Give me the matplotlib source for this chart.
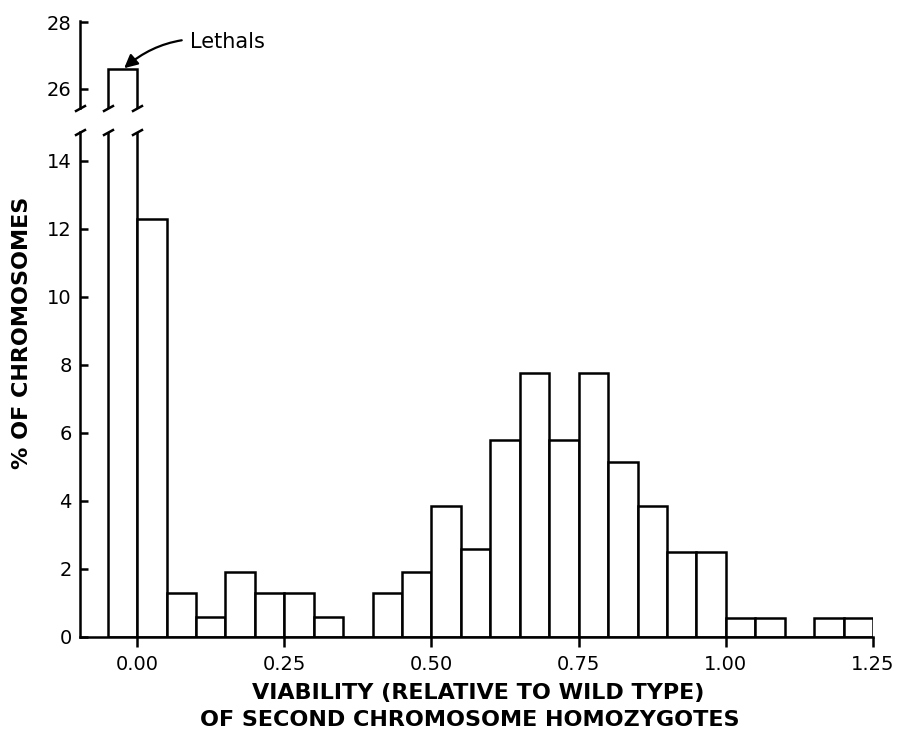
import matplotlib
matplotlib.use("Agg")
import matplotlib.pyplot as plt
import numpy as np

# bin left edges (viability) and % of chromosomes
bin_left = [-0.05, 0.00, 0.05, 0.10, 0.15, 0.20, 0.25, 0.30, 0.35, 0.40,
            0.45, 0.50, 0.55, 0.60, 0.65, 0.70, 0.75, 0.80, 0.85, 0.90,
            0.95, 1.00, 1.05, 1.10, 1.15, 1.20]
pct = [26.6, 12.3, 1.3, 0.6, 1.9, 1.3, 1.3, 0.6, 0.0, 1.3,
       1.9, 3.85, 2.6, 5.8, 7.75, 5.8, 7.75, 5.15, 3.85, 2.5,
       2.5, 0.55, 0.55, 0.0, 0.55, 0.55]
bin_w = 0.05
xticks = [0.0, 0.25, 0.5, 0.75, 1.0, 1.25]
xticklabels = ["0.00", "0.25", "0.50", "0.75", "1.00", "1.25"]
low_ticks = [0, 2, 4, 6, 8, 10, 12, 14]
high_ticks = [26, 28]

plt.rcParams['font.family'] = ['DejaVu Sans']

W, H = 899, 733
fig = plt.figure(figsize=(W / 100, H / 100), dpi=100)

left, right = 80 / W, 873 / W
ax = fig.add_axes([left, 1 - 637 / H, right - left, (637 - 132) / H])
ax_top = fig.add_axes([left, 1 - 108 / H, right - left, (108 - 21) / H])

xlim = (-0.097, 1.25)
lw = 1.8

for a in (ax, ax_top):
    a.bar(bin_left, pct, width=bin_w, align='edge', facecolor='white',
          edgecolor='black', linewidth=lw)
    a.set_xlim(*xlim)
    for s in ('top', 'right'):
        a.spines[s].set_visible(False)
    a.spines['left'].set_linewidth(lw)
    a.spines['bottom'].set_linewidth(lw)
    a.tick_params(axis='y', direction='in', length=6, width=lw,
                  labelsize=14, pad=6)

ax.set_ylim(0, 14.85)
ax.set_yticks(low_ticks)
ax.set_xticks(xticks)
ax.set_xticklabels(xticklabels)
ax.tick_params(axis='x', direction='out', length=7, width=lw,
               labelsize=14, pad=6)

ax_top.set_ylim(25.43, 28.03)
ax_top.set_yticks(high_ticks)
ax_top.spines['bottom'].set_visible(False)
ax_top.set_xticks([])

# break marks
slash = [(-1, -0.55), (1, 0.55)]
brk_x = [xlim[0], bin_left[0], bin_left[1]]
ax.plot(brk_x, [14.85] * 3, ls='none', marker=slash, markersize=8,
        mew=lw, color='black', clip_on=False)
ax_top.plot(brk_x, [25.43] * 3, ls='none', marker=slash, markersize=8,
            mew=lw, color='black', clip_on=False)

ax_top.annotate("Lethals", xy=(-0.022, 26.62), xytext=(190, H - 42),
                textcoords='figure pixels', fontsize=15, va='center',
                ha='left',
                arrowprops=dict(arrowstyle='-|>', color='black', lw=1.6,
                                mutation_scale=20, shrinkA=4, shrinkB=0,
                                connectionstyle='arc3,rad=0.25'))

fig.text(478 / W, 1 - 693 / H, "VIABILITY (RELATIVE TO WILD TYPE)",
         ha='center', va='center', fontsize=16, fontweight='bold')
fig.text(470 / W, 1 - 720 / H, "OF SECOND CHROMOSOME HOMOZYGOTES",
         ha='center', va='center', fontsize=16, fontweight='bold')
fig.text(22 / W, 1 - 333 / H, "% OF CHROMOSOMES", rotation=90,
         ha='center', va='center', fontsize=16, fontweight='bold')

fig.savefig("out.png", dpi=100)
